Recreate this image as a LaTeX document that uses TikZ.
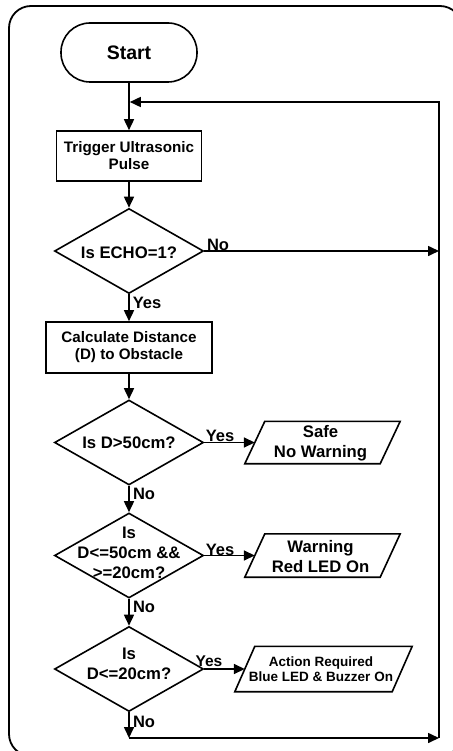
\documentclass[tikz,border=0pt]{standalone}
\usepackage{fontspec}
\setmainfont{Liberation Sans}
\usetikzlibrary{arrows.meta,shapes.geometric,calc}
\begin{document}
\begin{tikzpicture}[x=1pt,y=-1pt,
  every node/.style={font=\bfseries, align=center, inner sep=0pt},
  ln/.style={line width=1.6pt},
  arr/.style={line width=1.6pt, -{Triangle[length=11pt,width=10pt]}},
  procbox/.style={draw, line width=1.6pt, rectangle, font=\bfseries\fontsize{15.2}{17}\selectfont},
  term/.style={draw, line width=1.6pt, rectangle, rounded corners=29pt, minimum width=136pt, minimum height=59pt, font=\bfseries\fontsize{19.5}{22}\selectfont},
  dec/.style={draw, line width=1.6pt, diamond, minimum width=149pt, minimum height=85pt},
  dectext/.style={font=\bfseries\fontsize{16.7}{20}\selectfont},
  iotext/.style={font=\bfseries\fontsize{16.7}{20}\selectfont},
  lbl/.style={font=\bfseries\fontsize{16.5}{19}\selectfont},
]
\useasboundingbox (0,0) rectangle (452,751);
% outer frame
\draw[line width=1.8pt, rounded corners=22pt] (9,6) rectangle (462,756);

% main nodes
\node[term] (start) at (129,52.5) {Start};
\node[procbox, minimum width=145pt, minimum height=50pt] (trig) at (129,156) {Trigger Ultrasonic\\Pulse};
\node[dec] (echo) at (129,251) {};
\node[dectext] (echot) at (129,252.5) {Is ECHO=1?};
\node[procbox, minimum width=166pt, minimum height=51pt] (calc) at (129,347.5) {Calculate Distance\\(D) to Obstacle};
\node[dec] (d2) at (129,442.5) {};
\node[dectext] (d2t) at (129,443) {Is D>50cm?};
\node[dec] (d3) at (129,555.5) {};
\node[dectext] (d3t) at (129,552.5) {Is\\D<=50cm \&\&\\>=20cm?};
\node[dec] (d4) at (129,669) {};
\node[dectext] (d4t) at (129,664) {Is\\D<=20cm?};

% parallelograms (outline drawn around invisible boxes)
\node[minimum width=155pt, minimum height=42pt] (p1) at (322.5,442.5) {};
\node[iotext] (p1t) at (320.5,443.5) {Safe\\No Warning};
\node[minimum width=155pt, minimum height=43pt] (p2) at (322.5,555.5) {};
\node[iotext] (p2t) at (320.5,557) {Warning\\Red LED On};
\node[minimum width=177pt, minimum height=45pt] (p3) at (323.5,669) {};
\node[font=\bfseries\fontsize{13.5}{15}\selectfont] (p3t) at (321,669) {Action Required\\Blue LED \& Buzzer On};

\foreach \p in {p1,p2,p3}{
  \draw[ln, line join=miter] (\p.south west) -- ($(\p.north west)+(20,0)$) -- (\p.north east) -- ($(\p.south east)-(20,0)$) -- cycle;
  \coordinate (\p in) at ($(\p.west)+(10,0)$);
}

% loop coordinates
\coordinate (rtop) at (439,102);
\coordinate (ctop) at (129,102);
\coordinate (rbot) at (439,738);
\coordinate (cbot) at (129,738);

% connectors
\draw[arr] (start) -- (trig);
\draw[arr] (trig) -- (echo);
\draw[arr] (echo.east) -- (echo.east -| rtop);
\draw[arr] (echo) -- (calc);
\draw[arr] (calc) -- (d2);
\draw[arr] (d2.east) -- (p1in);
\draw[arr] (d2) -- (d3);
\draw[arr] (d3.east) -- (p2in);
\draw[arr] (d3) -- (d4);
\draw[arr] (d4.east) -- (p3in);
\draw[arr] (d4) -- (cbot);
\draw[arr] (cbot) -- (rbot);
\draw[arr, line join=miter, shorten >=0.8pt] (rbot) -- (rtop) -- (ctop);

% labels
\node[lbl] (l1) at (218,244.5) {No};
\node[lbl] (l2) at (147,302.5) {Yes};
\node[lbl] (l3) at (220,436) {Yes};
\node[lbl] (l4) at (144,493.5) {No};
\node[lbl] (l5) at (220,549.5) {Yes};
\node[lbl] (l6) at (144,606.5) {No};
\node[font=\bfseries\fontsize{15.5}{18}\selectfont] (l7) at (209,661.5) {Yes};
\node[lbl] (l8) at (144,721.5) {No};
\end{tikzpicture}
\end{document}
